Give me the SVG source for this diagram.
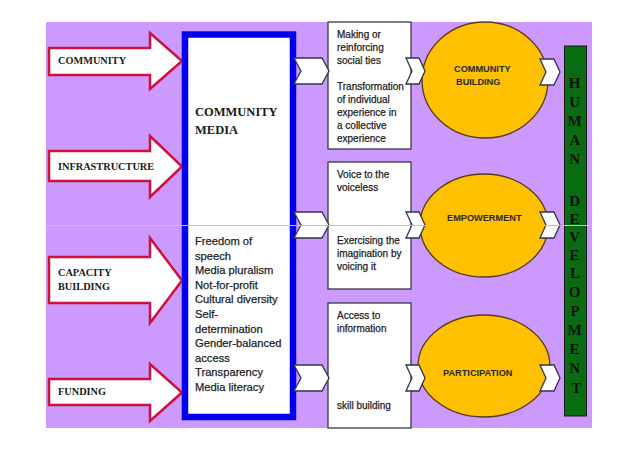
<svg xmlns="http://www.w3.org/2000/svg" width="638" height="451" viewBox="0 0 638 451">
<style>
.bg{fill:#cc99ff}
.inarrow{fill:#ffffff;stroke:#d0103a;stroke-width:2.5;stroke-linejoin:miter}
.serif{font-family:"Liberation Serif","Times New Roman",serif;font-weight:bold;fill:#1a1a1a}
.lbl{font-size:10.3px}
.sans{font-family:"Liberation Sans",Arial,sans-serif;fill:#1e1e1e;stroke:#1e1e1e;stroke-width:0.25}
.list{font-size:11.2px}
.small{font-size:10px}
.oval{fill:#ffc000;stroke:#5a3a1a;stroke-width:1.3}
.ovtxt{font-family:"Liberation Sans",Arial,sans-serif;font-weight:bold;font-size:9.2px;fill:#2a2a2a}
.tbox{fill:#ffffff;stroke:#2a2a3a;stroke-width:1.2}
.chev{fill:#ffffff;stroke:#33334d;stroke-width:1.3;stroke-linejoin:miter}
.bar{fill:#0b6b12;stroke:#1a1a1a;stroke-width:1}
.vlet{font-family:"Liberation Serif","Times New Roman",serif;font-weight:bold;font-size:15px;fill:#111111;text-anchor:middle}
</style>
<defs>
<polygon id="chevA" points="0,0 28,0 35,13 28,26 0,26 7,13"/>
<polygon id="chevB" points="0,0 13,0 19,13 13,26 0,26 6,13"/>
<polygon id="chevC" points="0,0 14,0 20,13 14,26 0,26 6,13"/>
</defs>
<rect class="bg" x="46" y="22" width="546" height="406"/>

<g id="in-community">
<path class="inarrow" d="M49,48 L150,48 L150,33 L182,61 L150,89 L150,75 L49,75 Z"/>
<text class="serif lbl" x="58" y="64">COMMUNITY</text>
</g>
<g id="in-infrastructure">
<path class="inarrow" d="M49,151 L150,151 L150,136 L182,166.5 L150,197 L150,181 L49,181 Z"/>
<text class="serif lbl" x="58" y="170">INFRASTRUCTURE</text>
</g>
<g id="in-capacity">
<path class="inarrow" d="M49,257 L150,257 L150,238 L182,280.5 L150,323 L150,303 L49,303 Z"/>
<text class="serif lbl" x="58" y="276">CAPACITY</text>
<text class="serif lbl" x="58" y="290">BUILDING</text>
</g>
<g id="in-funding">
<path class="inarrow" d="M49,379 L150,379 L150,364 L182,392.5 L150,421 L150,405 L49,405 Z"/>
<text class="serif lbl" x="58" y="395">FUNDING</text>
</g>

<g id="community-media">
<rect x="185" y="34.5" width="108" height="382.5" fill="#ffffff" stroke="#0000ee" stroke-width="6.5"/>
<text class="serif" font-size="12.5" x="195" y="116">COMMUNITY</text>
<text class="serif" font-size="12.5" x="195" y="134">MEDIA</text>
<text class="sans list" x="195" y="245">Freedom of</text>
<text class="sans list" x="195" y="259.6">speech</text>
<text class="sans list" x="195" y="274.2">Media pluralism</text>
<text class="sans list" x="195" y="288.8">Not-for-profit</text>
<text class="sans list" x="195" y="303.4">Cultural diversity</text>
<text class="sans list" x="195" y="318">Self-</text>
<text class="sans list" x="195" y="332.6">determination</text>
<text class="sans list" x="195" y="347.2">Gender-balanced</text>
<text class="sans list" x="195" y="361.8">access</text>
<text class="sans list" x="195" y="376.4">Transparency</text>
<text class="sans list" x="195" y="391">Media literacy</text>
</g>

<g id="box-social">
<rect class="tbox" x="328" y="22" width="83" height="127"/>
<text class="sans small" x="337" y="38">Making or</text>
<text class="sans small" x="337" y="51">reinforcing</text>
<text class="sans small" x="337" y="64">social ties</text>
<text class="sans small" x="337" y="90">Transformation</text>
<text class="sans small" x="337" y="103">of individual</text>
<text class="sans small" x="337" y="116">experience in</text>
<text class="sans small" x="337" y="129">a collective</text>
<text class="sans small" x="337" y="142">experience</text>
</g>
<g id="box-voice">
<rect class="tbox" x="328" y="162" width="83" height="127"/>
<text class="sans small" x="337" y="178">Voice to the</text>
<text class="sans small" x="337" y="191">voiceless</text>
<text class="sans small" x="337" y="244">Exercising the</text>
<text class="sans small" x="337" y="257">imagination by</text>
<text class="sans small" x="337" y="270">voicing it</text>
</g>
<g id="box-access">
<rect class="tbox" x="328" y="303" width="83" height="125"/>
<text class="sans small" x="337" y="319">Access to</text>
<text class="sans small" x="337" y="332">information</text>
<text class="sans small" x="337" y="409">skill building</text>
</g>

<g id="community-building">
<ellipse class="oval" cx="485" cy="80" rx="63" ry="58"/>
<text class="ovtxt" x="454" y="72">COMMUNITY</text>
<text class="ovtxt" x="456" y="85">BUILDING</text>
</g>
<g id="empowerment">
<ellipse class="oval" cx="484" cy="225.5" rx="64" ry="51.5"/>
<text class="ovtxt" x="447" y="221">EMPOWERMENT</text>
</g>
<g id="participation">
<ellipse class="oval" cx="484" cy="366" rx="66" ry="51"/>
<text class="ovtxt" x="443" y="376">PARTICIPATION</text>
</g>

<g id="human-development">
<rect class="bar" x="564.5" y="46" width="22" height="370"/>
<text class="vlet">
<tspan x="576.5" y="88">H</tspan>
<tspan x="576.5" y="107">U</tspan>
<tspan x="576.5" y="126">M</tspan>
<tspan x="576.5" y="145">A</tspan>
<tspan x="576.5" y="164">N</tspan>
<tspan x="576.5" y="206">D</tspan>
<tspan x="576.5" y="224">E</tspan>
<tspan x="576.5" y="242">V</tspan>
<tspan x="576.5" y="260">E</tspan>
<tspan x="576.5" y="278">L</tspan>
<tspan x="576.5" y="297">O</tspan>
<tspan x="576.5" y="316">P</tspan>
<tspan x="576.5" y="335">M</tspan>
<tspan x="576.5" y="354">E</tspan>
<tspan x="576.5" y="373">N</tspan>
<tspan x="576.5" y="393">T</tspan>
</text>
</g>

<g id="connectors">
<use href="#chevA" class="chev" x="294" y="58"/>
<use href="#chevA" class="chev" x="294" y="212"/>
<use href="#chevA" class="chev" x="294" y="365"/>
<use href="#chevB" class="chev" x="406" y="58"/>
<use href="#chevB" class="chev" x="406" y="212"/>
<use href="#chevB" class="chev" x="406" y="365"/>
<use href="#chevC" class="chev" x="540" y="59"/>
<use href="#chevC" class="chev" x="540" y="212"/>
<use href="#chevC" class="chev" x="540" y="365"/>
</g>

<line x1="46" y1="225.5" x2="592" y2="225.5" stroke="#9fd89f" stroke-width="1"/>
</svg>
